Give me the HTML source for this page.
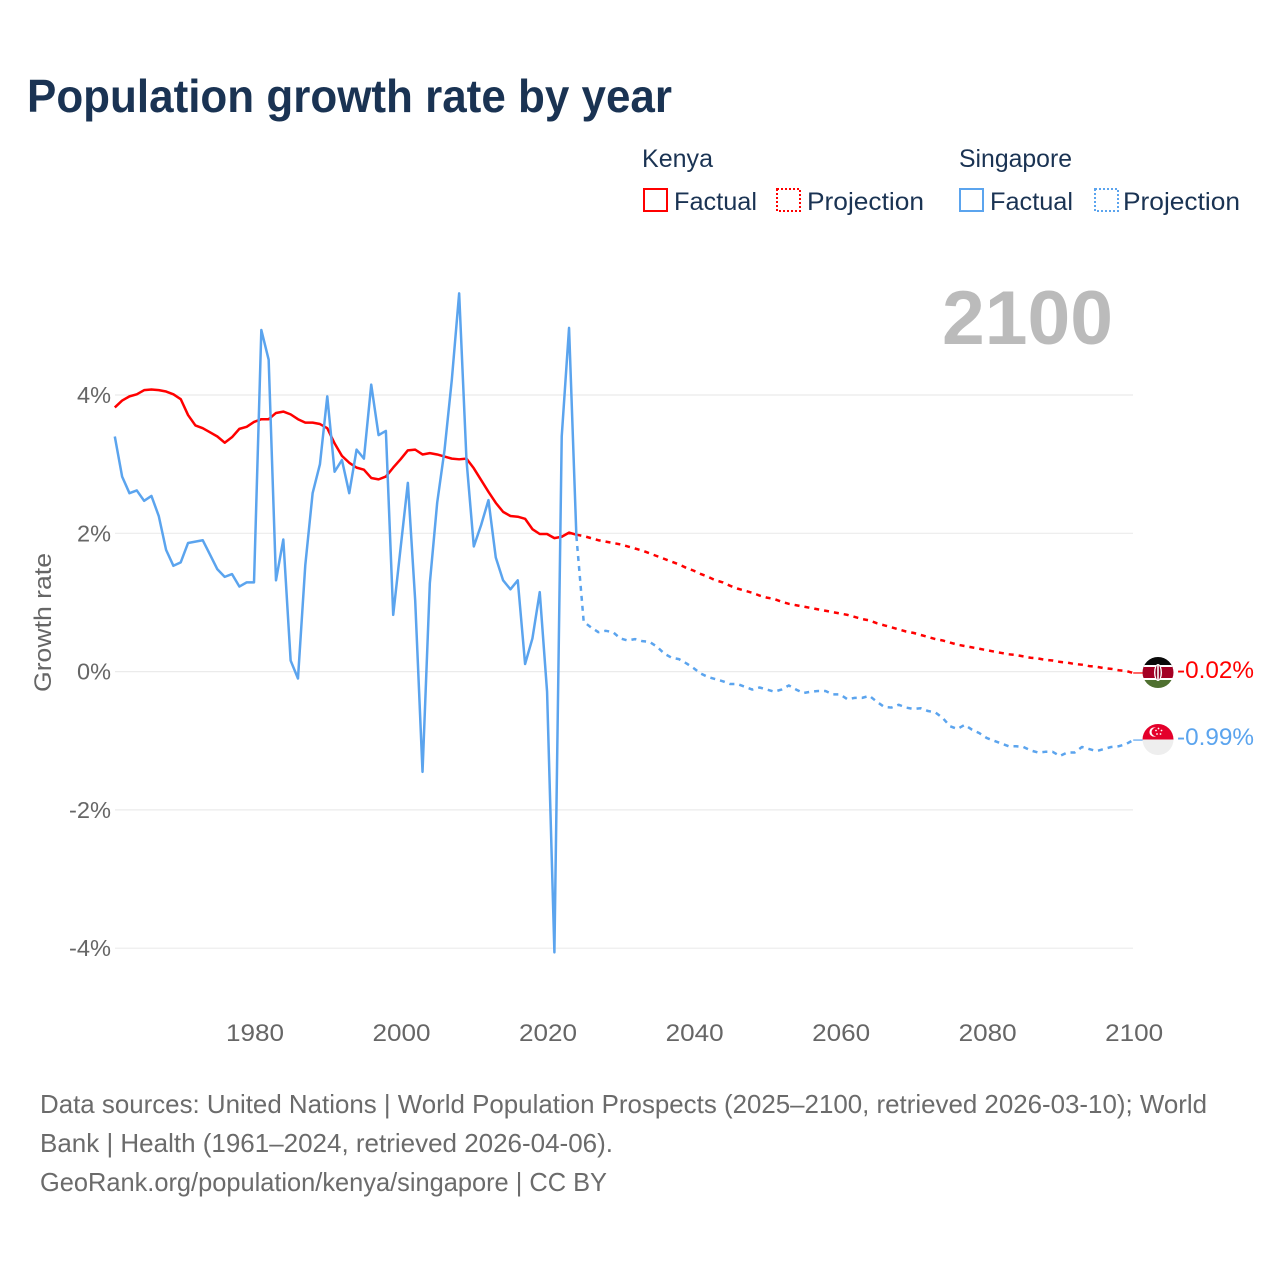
<!DOCTYPE html>
<html lang="en">
<head>
<meta charset="utf-8">
<title>Population growth rate by year</title>
<style>
html,body{margin:0;padding:0;background:#fff;}
svg{display:block;font-family:"Liberation Sans",sans-serif;}
</style>
</head>
<body>
<svg id="chart" xmlns="http://www.w3.org/2000/svg" width="1280" height="1280" viewBox="0 0 1280 1280">
  <rect x="0" y="0" width="1280" height="1280" fill="#fff"/>
  <text x="27" y="112" font-size="46" font-weight="700" fill="#1a3353" textLength="645" lengthAdjust="spacingAndGlyphs">Population growth rate by year</text>

  <g font-size="25" fill="#1a3353">
    <text x="642" y="167" textLength="71" lengthAdjust="spacingAndGlyphs">Kenya</text>
    <text x="959" y="167" textLength="113" lengthAdjust="spacingAndGlyphs">Singapore</text>
    <g>
      <rect x="644" y="189" width="23" height="22" fill="none" stroke="#ff0000" stroke-width="2"/>
      <text x="674" y="210" textLength="83" lengthAdjust="spacingAndGlyphs">Factual</text>
    </g>
    <g>
      <rect x="777" y="189" width="23" height="22" fill="none" stroke="#ff0000" stroke-width="2" stroke-dasharray="2,2"/>
      <text x="807" y="210" textLength="117" lengthAdjust="spacingAndGlyphs">Projection</text>
    </g>
    <g>
      <rect x="960" y="189" width="23" height="22" fill="none" stroke="#5ba4ee" stroke-width="2"/>
      <text x="990" y="210" textLength="83" lengthAdjust="spacingAndGlyphs">Factual</text>
    </g>
    <g>
      <rect x="1095" y="189" width="23" height="22" fill="none" stroke="#5ba4ee" stroke-width="2" stroke-dasharray="2,2"/>
      <text x="1123" y="210" textLength="117" lengthAdjust="spacingAndGlyphs">Projection</text>
    </g>
  </g>

  <text x="942" y="344" font-size="76" font-weight="700" fill="#bbbbbb" textLength="171" lengthAdjust="spacingAndGlyphs">2100</text>

  <g id="grid"></g>
  <g id="yticks"></g>
  <g id="xticks"></g>
  <text transform="translate(51,692) rotate(-90)" font-size="24" fill="#666" textLength="139" lengthAdjust="spacingAndGlyphs">Growth rate</text>
  <g id="series"></g>

  <defs>
    <clipPath id="clip-ke"><circle cx="1158" cy="672.5" r="15.5"/></clipPath>
    <clipPath id="clip-sg"><circle cx="1158" cy="739.5" r="15.5"/></clipPath>
  </defs>
  <g clip-path="url(#clip-ke)">
    <rect x="1142" y="657" width="32" height="11" fill="#0a0a0a"/>
    <rect x="1142" y="665" width="32" height="2" fill="#fff"/>
    <rect x="1142" y="667" width="32" height="11" fill="#a40024"/>
    <rect x="1142" y="678" width="32" height="2" fill="#fff"/>
    <rect x="1142" y="680" width="32" height="9" fill="#4f7030"/>
    <ellipse cx="1158" cy="672.5" rx="4" ry="8.5" fill="#fff"/>
    <ellipse cx="1158" cy="672.5" rx="2.6" ry="7.5" fill="#8a0020"/>
    <rect x="1157.2" y="665" width="1.6" height="15" fill="#fff"/>
  </g>
  <g clip-path="url(#clip-sg)">
    <rect x="1142" y="724" width="32" height="16" fill="#e4002b"/>
    <rect x="1142" y="739.5" width="32" height="16" fill="#eeeeee"/>
    <circle cx="1154" cy="732" r="4.6" fill="#fff"/>
    <circle cx="1155.8" cy="732" r="4.2" fill="#e4002b"/>
    <circle cx="1158.5" cy="728.5" r="0.9" fill="#fff"/>
    <circle cx="1161.5" cy="730.5" r="0.9" fill="#fff"/>
    <circle cx="1160.5" cy="734" r="0.9" fill="#fff"/>
    <circle cx="1157" cy="734" r="0.9" fill="#fff"/>
    <circle cx="1156" cy="730.5" r="0.9" fill="#fff"/>
  </g>
  <text x="1177" y="678" font-size="24" fill="#ff0000" textLength="77" lengthAdjust="spacingAndGlyphs">-0.02%</text>
  <text x="1177" y="745" font-size="24" fill="#5ba4ee" textLength="77" lengthAdjust="spacingAndGlyphs">-0.99%</text>

  <g font-size="26" fill="#6b6b6b">
    <text x="40" y="1113" textLength="1167" lengthAdjust="spacingAndGlyphs">Data sources: United Nations | World Population Prospects (2025–2100, retrieved 2026-03-10); World</text>
    <text x="40" y="1152" textLength="573" lengthAdjust="spacingAndGlyphs">Bank | Health (1961–2024, retrieved 2026-04-06).</text>
    <text x="40" y="1191" textLength="567" lengthAdjust="spacingAndGlyphs">GeoRank.org/population/kenya/singapore | CC BY</text>
  </g>
</svg>
<script>
const yTickValues = [4, 2, 0, -2, -4];
const yTickLabels = ['4%', '2%', '0%', '-2%', '-4%'];
const xTickValues = [1980, 2000, 2020, 2040, 2060, 2080, 2100];
const xTickLabels = ['1980', '2000', '2020', '2040', '2060', '2080', '2100'];
const factualStartYear = 1961;
const projectionStartYear = 2024;

const kenyaFactual = [3.82,3.92,3.98,4.01,4.07,4.08,4.07,4.05,4.01,3.94,3.71,3.56,3.52,3.46,3.40,3.31,3.39,3.51,3.54,3.61,3.65,3.65,3.74,3.76,3.72,3.65,3.60,3.60,3.58,3.52,3.30,3.12,3.02,2.95,2.92,2.80,2.78,2.82,2.95,3.07,3.20,3.21,3.14,3.16,3.14,3.11,3.08,3.07,3.08,2.94,2.77,2.60,2.44,2.31,2.25,2.24,2.21,2.06,1.99,1.99,1.93,1.95,2.01,1.98];
const kenyaProjection = [1.98,1.96,1.93,1.90,1.88,1.86,1.84,1.81,1.78,1.75,1.71,1.67,1.63,1.59,1.55,1.50,1.46,1.41,1.37,1.32,1.29,1.24,1.20,1.17,1.14,1.10,1.07,1.05,1.01,0.98,0.96,0.94,0.92,0.90,0.88,0.86,0.84,0.82,0.79,0.76,0.74,0.70,0.67,0.64,0.61,0.58,0.56,0.53,0.50,0.47,0.45,0.42,0.39,0.37,0.35,0.33,0.31,0.29,0.27,0.25,0.24,0.22,0.20,0.19,0.17,0.16,0.14,0.13,0.11,0.10,0.08,0.07,0.05,0.04,0.02,0.01,-0.02];
const singaporeFactual = [3.40,2.82,2.58,2.62,2.47,2.54,2.25,1.76,1.53,1.58,1.86,1.88,1.90,1.69,1.48,1.37,1.41,1.23,1.29,1.29,4.94,4.51,1.32,1.91,0.16,-0.10,1.54,2.58,3.00,3.98,2.89,3.06,2.58,3.21,3.08,4.15,3.42,3.48,0.82,1.78,2.73,1.03,-1.45,1.28,2.44,3.20,4.22,5.47,3.06,1.81,2.12,2.48,1.65,1.32,1.19,1.32,0.11,0.48,1.15,-0.29,-4.06,3.40,4.97,1.96];
const singaporeProjection = [1.96,0.72,0.64,0.57,0.59,0.57,0.48,0.45,0.47,0.44,0.43,0.36,0.26,0.20,0.18,0.12,0.05,-0.03,-0.08,-0.11,-0.14,-0.18,-0.18,-0.22,-0.26,-0.23,-0.26,-0.29,-0.26,-0.20,-0.26,-0.31,-0.29,-0.28,-0.28,-0.33,-0.33,-0.40,-0.38,-0.38,-0.35,-0.435,-0.51,-0.52,-0.48,-0.52,-0.54,-0.53,-0.57,-0.59,-0.67,-0.79,-0.83,-0.77,-0.84,-0.89,-0.96,-1.00,-1.04,-1.08,-1.08,-1.09,-1.14,-1.17,-1.16,-1.16,-1.22,-1.17,-1.17,-1.09,-1.12,-1.15,-1.12,-1.09,-1.08,-1.05,-0.99];

const NS = 'http://www.w3.org/2000/svg';
const xScale = function (year) { return 114.8 + (year - 1961) * (1133.2 - 114.8) / 139; };
const yScale = function (v) { return 671.6 - v * 69.15; };
const gridLayer = document.getElementById('grid');
const yTickLayer = document.getElementById('yticks');
const xTickLayer = document.getElementById('xticks');
const seriesLayer = document.getElementById('series');

yTickValues.forEach(function (v, i) {
  const line = document.createElementNS(NS, 'line');
  
  
  line.setAttribute('x1', 115);
  line.setAttribute('x2', 1133);
  line.setAttribute('y1', yScale(v));
  line.setAttribute('y2', yScale(v));
  line.setAttribute('stroke', '#ebebeb');
  line.setAttribute('stroke-width', '1.2');
  gridLayer.appendChild(line);

  const label = document.createElementNS(NS, 'text');
  
  
  label.setAttribute('x', 111);
  label.setAttribute('y', yScale(v) + 8);
  label.setAttribute('text-anchor', 'end');
  label.setAttribute('font-size', '23');
  label.setAttribute('fill', '#666');
  label.setAttribute('textLength', yTickLabels[i].length > 2 ? 42 : 34);
  label.setAttribute('lengthAdjust', 'spacingAndGlyphs');
  label.textContent = yTickLabels[i];
  yTickLayer.appendChild(label);
});

xTickValues.forEach(function (year, i) {
  const label = document.createElementNS(NS, 'text');
  
  
  label.setAttribute('x', xScale(year) + 1);
  label.setAttribute('y', 1041);
  label.setAttribute('text-anchor', 'middle');
  label.setAttribute('font-size', '24');
  label.setAttribute('fill', '#666');
  label.setAttribute('textLength', 58);
  label.setAttribute('lengthAdjust', 'spacingAndGlyphs');
  label.textContent = xTickLabels[i];
  xTickLayer.appendChild(label);
});

function linePath(values, startYear) {
  return values.map(function (v, i) {
    return (i ? 'L' : 'M') + xScale(startYear + i).toFixed(2) + ' ' + yScale(v).toFixed(2);
  }).join(' ');
}

function drawSeries(name, values, startYear, color, dashed) {
  const path = document.createElementNS(NS, 'path');
  
  
  path.setAttribute('d', linePath(values, startYear));
  path.setAttribute('fill', 'none');
  path.setAttribute('stroke', color);
  path.setAttribute('stroke-width', '2.5');
  path.setAttribute('stroke-linejoin', 'round');
  if (dashed) {
    path.setAttribute('stroke-dasharray', '5,5');
  }
  seriesLayer.appendChild(path);
}

function drawConnector(name, value, color) {
  const line = document.createElementNS(NS, 'line');
  
  
  line.setAttribute('x1', xScale(2100));
  line.setAttribute('x2', 1143);
  line.setAttribute('y1', yScale(value));
  line.setAttribute('y2', yScale(value));
  line.setAttribute('stroke', color);
  line.setAttribute('stroke-width', '1.2');
  seriesLayer.appendChild(line);
}

drawSeries('kenya-projection-line', kenyaProjection, projectionStartYear, '#ff0000', true);
drawSeries('kenya-factual-line', kenyaFactual, factualStartYear, '#ff0000', false);
drawSeries('singapore-projection-line', singaporeProjection, projectionStartYear, '#5ba4ee', true);
drawSeries('singapore-factual-line', singaporeFactual, factualStartYear, '#5ba4ee', false);
drawConnector('kenya-flag-connector', kenyaProjection[kenyaProjection.length - 1], '#ff0000');
drawConnector('singapore-flag-connector', singaporeProjection[singaporeProjection.length - 1], '#5ba4ee');
</script>
</body>
</html>
